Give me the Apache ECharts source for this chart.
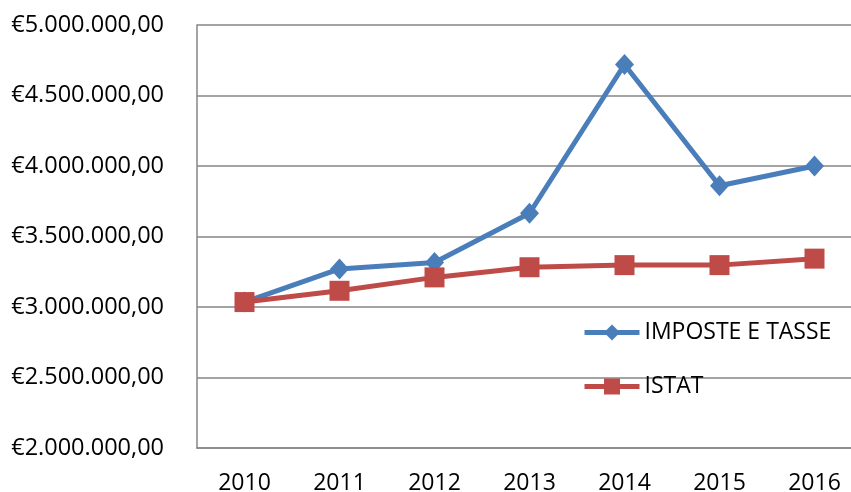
<!DOCTYPE html>
<html>
<head>
<meta charset="utf-8">
<script src="https://cdn.jsdelivr.net/npm/echarts@6/dist/echarts.min.js"></script>
<style>html,body{margin:0;padding:0;background:#fff}#c{width:851px;height:492px}</style>
</head>
<body>
<div id="c"></div>
<script>
const years = ['2010', '2011', '2012', '2013', '2014', '2015', '2016'];
const imposteTasse = [3035000, 3270000, 3315000, 3665000, 4720000, 3860000, 4000000];
const istat = [3035000, 3115000, 3210000, 3282000, 3297000, 3297000, 3343000];
const seriesNames = ['IMPOSTE E TASSE', 'ISTAT'];

function fmtEuro(v) {
  const s = String(Math.round(v));
  let out = '';
  for (let i = 0; i < s.length; i++) {
    if (i > 0 && (s.length - i) % 3 === 0) out += '.';
    out += s[i];
  }
  return '€' + out + ',00';
}

const FONT = 'Open Sans';
const chart = echarts.init(document.getElementById('c'), null, {renderer: 'canvas'});
chart.setOption({
  animation: false,
  backgroundColor: '#ffffff',
  grid: {left: 197, top: 25, height: 423, width: 665, containLabel: false, outerBoundsMode: 'none'},
  legend: {
    orient: 'vertical',
    left: 582,
    top: 321,
    padding: 0,
    itemWidth: 55,
    itemHeight: 20,
    itemGap: 31,
    lineStyle: {width: 5},
    textStyle: {fontFamily: FONT, fontSize: 23, color: '#000'},
    data: seriesNames
  },
  xAxis: {
    type: 'category',
    data: years,
    boundaryGap: true,
    axisLine: {show: true, lineStyle: {color: '#868686', width: 1.5}},
    axisTick: {show: false},
    axisLabel: {fontFamily: FONT, fontSize: 23, color: '#000', margin: 24}
  },
  yAxis: {
    type: 'value',
    min: 2000000,
    max: 5000000,
    interval: 500000,
    axisLine: {show: true, lineStyle: {color: '#868686', width: 1.5}},
    axisTick: {show: false},
    splitLine: {show: true, lineStyle: {color: '#868686', width: 1.5}},
    axisLabel: {fontFamily: FONT, fontSize: 23.5, color: '#000', margin: 33, formatter: fmtEuro}
  },
  series: [
    {
      name: seriesNames[0],
      type: 'line',
      data: imposteTasse,
      symbol: 'diamond',
      symbolSize: [19, 21],
      lineStyle: {color: '#4A7EBB', width: 5},
      itemStyle: {color: '#4A7EBB'}
    },
    {
      name: seriesNames[1],
      type: 'line',
      data: istat,
      symbol: 'rect',
      symbolSize: 20,
      lineStyle: {color: '#BE4B48', width: 5},
      itemStyle: {color: '#BE4B48'}
    }
  ]
});
</script>
</body>
</html>
